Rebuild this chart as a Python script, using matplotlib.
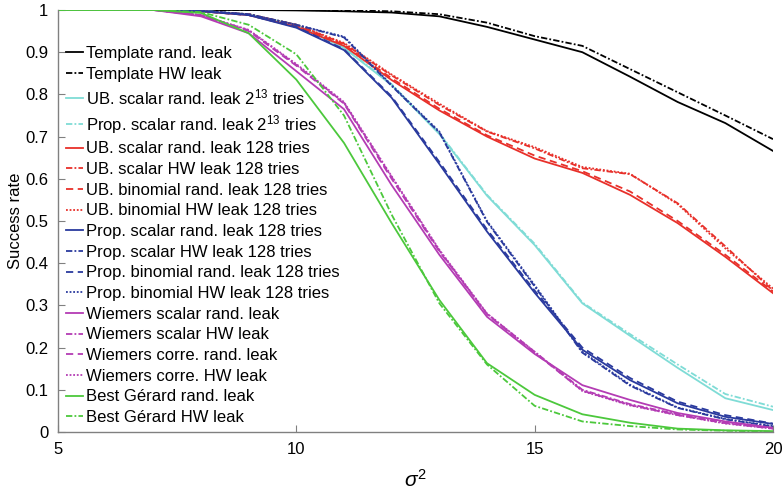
import matplotlib
matplotlib.use("Agg")
import matplotlib.pyplot as plt

plt.rcParams['font.family'] = ['Liberation Sans', 'DejaVu Sans']
plt.rcParams['mathtext.fontset'] = 'custom'
plt.rcParams['mathtext.rm'] = 'Liberation Sans'
plt.rcParams['mathtext.it'] = 'Liberation Sans:italic'

sigma2 = list(range(5, 21))

template_rand = [1, 1, 1, 1, 1, 0.999, 0.997, 0.994, 0.985, 0.96, 0.93, 0.9, 0.842, 0.782, 0.732, 0.666]
template_hw = [1, 1, 1, 1, 1, 1, 0.999, 0.997, 0.99, 0.97, 0.938, 0.915, 0.86, 0.805, 0.75, 0.694]

ub_scalar_rand_2p13 = [1, 1, 1, 0.998, 0.99, 0.965, 0.91, 0.822, 0.706, 0.56, 0.443, 0.305, 0.228, 0.152, 0.08, 0.052]
prop_scalar_rand_2p13 = [1, 1, 1, 0.998, 0.99, 0.965, 0.912, 0.824, 0.708, 0.562, 0.446, 0.307, 0.232, 0.16, 0.09, 0.06]

ub_scalar_rand_128 = [1, 1, 1, 0.997, 0.988, 0.96, 0.915, 0.834, 0.762, 0.70, 0.648, 0.614, 0.562, 0.495, 0.415, 0.329]
ub_scalar_hw_128 = [1, 1, 1, 0.997, 0.99, 0.965, 0.92, 0.845, 0.775, 0.712, 0.672, 0.625, 0.611, 0.542, 0.44, 0.335]
ub_binom_rand_128 = [1, 1, 1, 0.997, 0.988, 0.962, 0.918, 0.838, 0.766, 0.703, 0.655, 0.618, 0.57, 0.5, 0.42, 0.333]
ub_binom_hw_128 = [1, 1, 1, 0.997, 0.99, 0.965, 0.922, 0.847, 0.778, 0.713, 0.675, 0.628, 0.612, 0.54, 0.435, 0.34]

prop_scalar_rand_128 = [1, 1, 1, 0.997, 0.988, 0.958, 0.905, 0.792, 0.635, 0.475, 0.33, 0.195, 0.123, 0.068, 0.036, 0.019]
prop_scalar_hw_128 = [1, 1, 1, 0.998, 0.99, 0.965, 0.935, 0.82, 0.71, 0.498, 0.345, 0.188, 0.11, 0.057, 0.03, 0.013]
prop_binom_rand_128 = [1, 1, 1, 0.997, 0.988, 0.96, 0.907, 0.795, 0.64, 0.48, 0.335, 0.2, 0.128, 0.072, 0.04, 0.02]
prop_binom_hw_128 = [1, 1, 1, 0.998, 0.99, 0.965, 0.937, 0.822, 0.712, 0.5, 0.348, 0.19, 0.112, 0.058, 0.031, 0.014]

wiemers_scalar_rand = [1, 1, 1, 0.985, 0.945, 0.855, 0.765, 0.585, 0.42, 0.273, 0.185, 0.111, 0.076, 0.045, 0.025, 0.01]
wiemers_scalar_hw = [1, 1, 1, 0.988, 0.952, 0.87, 0.78, 0.604, 0.43, 0.28, 0.19, 0.1, 0.066, 0.042, 0.022, 0.009]
wiemers_corre_rand = [1, 1, 1, 0.988, 0.95, 0.868, 0.778, 0.6, 0.428, 0.279, 0.188, 0.098, 0.064, 0.04, 0.021, 0.008]
wiemers_corre_hw = [1, 1, 1, 0.988, 0.953, 0.872, 0.782, 0.606, 0.432, 0.281, 0.19, 0.097, 0.063, 0.04, 0.02, 0.008]

gerard_rand = [1, 1, 1, 0.993, 0.945, 0.835, 0.685, 0.495, 0.313, 0.163, 0.088, 0.042, 0.022, 0.008, 0.004, 0.002]
gerard_hw = [1, 1, 1, 0.995, 0.965, 0.895, 0.75, 0.515, 0.305, 0.16, 0.062, 0.025, 0.014, 0.006, 0.003, 0.001]

BLACK = '#000000'
CYAN = '#7fdcd6'
RED = '#e8302a'
BLUE = '#2a3a9e'
MAGENTA = '#b43cb4'
GREEN = '#4cc83c'

SOLID = '-'
DASHDOT = (0, (3.5, 1.2, 1, 1.2))
DASHED = (0, (4, 2.5))
DOTTED = (0, (1, 1))

series = [
    ('Template rand. leak', template_rand, BLACK, SOLID),
    ('Template HW leak', template_hw, BLACK, DASHDOT),
    (r'UB. scalar rand. leak $2^{13}$ tries', ub_scalar_rand_2p13, CYAN, SOLID),
    (r'Prop. scalar rand. leak $2^{13}$ tries', prop_scalar_rand_2p13, CYAN, DASHDOT),
    ('UB. scalar rand. leak 128 tries', ub_scalar_rand_128, RED, SOLID),
    ('UB. scalar HW leak 128 tries', ub_scalar_hw_128, RED, DASHDOT),
    ('UB. binomial rand. leak 128 tries', ub_binom_rand_128, RED, DASHED),
    ('UB. binomial HW leak 128 tries', ub_binom_hw_128, RED, DOTTED),
    ('Prop. scalar rand. leak 128 tries', prop_scalar_rand_128, BLUE, SOLID),
    ('Prop. scalar HW leak 128 tries', prop_scalar_hw_128, BLUE, DASHDOT),
    ('Prop. binomial rand. leak 128 tries', prop_binom_rand_128, BLUE, DASHED),
    ('Prop. binomial HW leak 128 tries', prop_binom_hw_128, BLUE, DOTTED),
    ('Wiemers scalar rand. leak', wiemers_scalar_rand, MAGENTA, SOLID),
    ('Wiemers scalar HW leak', wiemers_scalar_hw, MAGENTA, DASHDOT),
    ('Wiemers corre. rand. leak', wiemers_corre_rand, MAGENTA, DASHED),
    ('Wiemers corre. HW leak', wiemers_corre_hw, MAGENTA, DOTTED),
    ('Best Gérard rand. leak', gerard_rand, GREEN, SOLID),
    ('Best Gérard HW leak', gerard_hw, GREEN, DASHDOT),
]

fig = plt.figure(figsize=(7.83, 4.92), dpi=100)
ax = fig.add_axes([58 / 783, 1 - 432 / 492, 715 / 783, 422 / 492])

for label, values, color, style in series:
    ax.plot(sigma2, values, color=color, linestyle=style, linewidth=1.3, label=label)

ax.set_xlim(5, 20)
ax.set_ylim(0, 1)
ax.set_xticks([5, 10, 15, 20])
ax.set_yticks([i / 10 for i in range(11)])
ax.set_yticklabels(['0', '0.1', '0.2', '0.3', '0.4', '0.5', '0.6', '0.7', '0.8', '0.9', '1'])

for side in ('top', 'right'):
    ax.spines[side].set_visible(False)
for side in ('left', 'bottom'):
    ax.spines[side].set_color('#808080')
    ax.spines[side].set_linewidth(1.0)
ax.tick_params(direction='in', length=5, width=0.8, color='#808080',
               labelsize=12, labelcolor='black', pad=7)

ax.set_xlabel(r'$\sigma^2$', fontsize=15, labelpad=9)
ax.set_ylabel('Success rate', fontsize=12, labelpad=1.5)

ax.legend(loc='upper left', bbox_to_anchor=(0.011, 0.915), frameon=False,
          fontsize=12, handlelength=1.05, handletextpad=0.15,
          labelspacing=0.34, borderpad=0, borderaxespad=0)

fig.savefig('out.png', dpi=100)
